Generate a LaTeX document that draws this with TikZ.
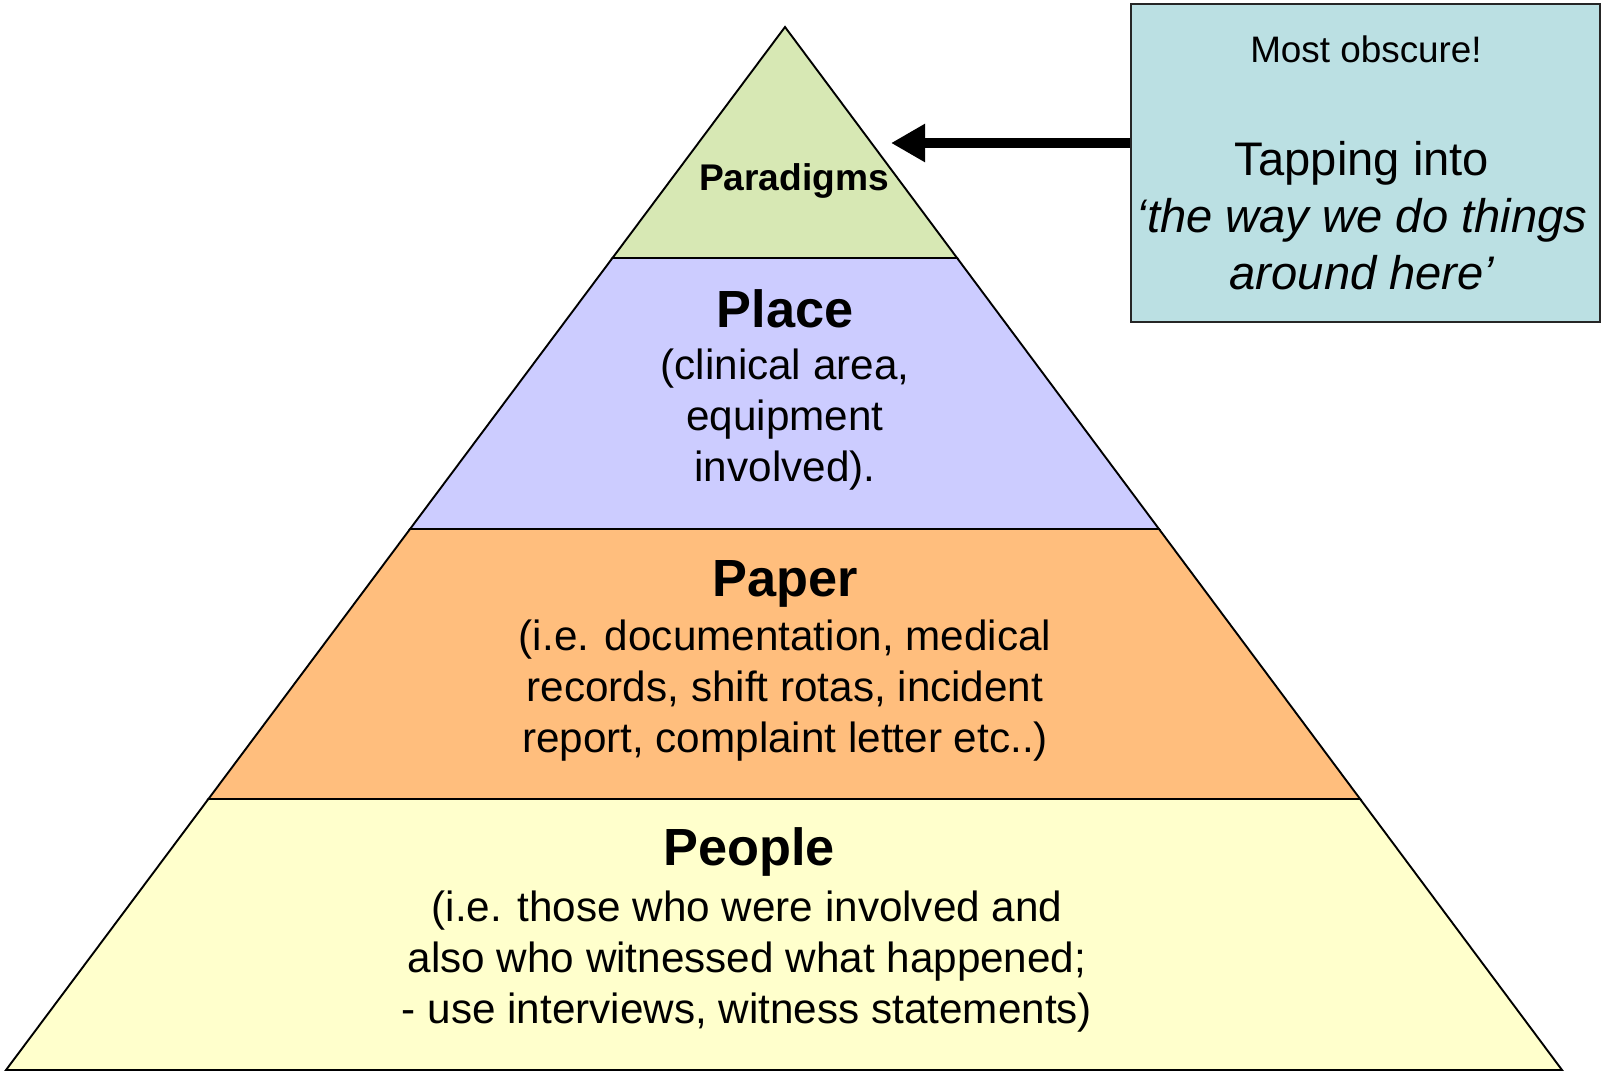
\documentclass[tikz,border=0pt]{standalone}
\usepackage{fontspec}
\setmainfont{Liberation Sans}
\usetikzlibrary{arrows.meta,calc}
\definecolor{cparadigm}{HTML}{D7E8B4}
\definecolor{cplace}{HTML}{CCCCFF}
\definecolor{cpaper}{HTML}{FFBE7D}
\definecolor{cpeople}{HTML}{FFFFCC}
\definecolor{cbox}{HTML}{BBE0E3}
\begin{document}
\begin{tikzpicture}[x=1bp,y=-1bp,
  band/.style={draw=black,line width=1.9bp,line join=miter},
  title/.style={anchor=base,inner sep=0pt,font=\bfseries\fontsize{52.5}{63}\selectfont},
  body/.style={anchor=base,inner sep=0pt,align=center,font=\fontsize{42.4}{51}\selectfont},
  notebox/.style={draw=black!85,line width=1.6bp,fill=cbox,inner sep=0pt},
  bigarrow/.style={line width=10.5bp,-{Triangle[length=34bp,width=36bp]}}]
\useasboundingbox (0,0) rectangle (1604,1073);
\coordinate (A) at (785,27);
\coordinate (L) at (6,1070);
\coordinate (R) at (1562,1070);
\coordinate (L1) at ($(A)!0.2215!(L)$);
\coordinate (R1) at ($(A)!0.2215!(R)$);
\coordinate (L2) at ($(A)!0.4813!(L)$);
\coordinate (R2) at ($(A)!0.4813!(R)$);
\coordinate (L3) at ($(A)!0.7402!(L)$);
\coordinate (R3) at ($(A)!0.7402!(R)$);
% bands
\draw[band,fill=cpeople] (L3) -- (R3) -- (R) -- (L) -- cycle;
\draw[band,fill=cpaper] (L2) -- (R2) -- (R3) -- (L3) -- cycle;
\draw[band,fill=cplace] (L1) -- (R1) -- (R2) -- (L2) -- cycle;
\draw[band,fill=cparadigm] (A) -- (R1) -- (L1) -- cycle;
% texts (base of multi-line nodes = last line's baseline)
\node[anchor=base,inner sep=0pt,font=\bfseries\fontsize{37.3}{44}\selectfont] (paradigms) at (794,190) {Paradigms};
\node[title] (place) at (785,327) {Place};
\node[body] (placetext) at (785,481) {(clinical area,\\equipment\\involved).};
\node[title] (paper) at (785,596) {Paper};
\node[body] (papertext) at (785,752) {(i.e. documentation, medical\\records, shift rotas, incident\\report, complaint letter etc..)};
\node[title] (people) at (749,865) {People};
\node[body] (peopletext) at (747,1023) {(i.e. those who were involved and\\also who witnessed what happened;\\- use interviews, witness statements)};
% note box
\node[notebox,minimum width=469bp,minimum height=318bp] (box) at (1365.5,163) {};
\node[anchor=base,inner sep=0pt,font=\fontsize{37}{44}\selectfont] (obscure) at (1366,62) {Most obscure!};
\node[anchor=base,inner sep=0pt,align=center,font=\fontsize{47.3}{57}\selectfont] (tapping) at (1362,289) {Tapping into\\\itshape ‘the way we do things\\\itshape around here’};
% arrow
\coordinate (tip) at (891,143);
\draw[bigarrow] (box.west |- tip) -- (tip);
\end{tikzpicture}
\end{document}
